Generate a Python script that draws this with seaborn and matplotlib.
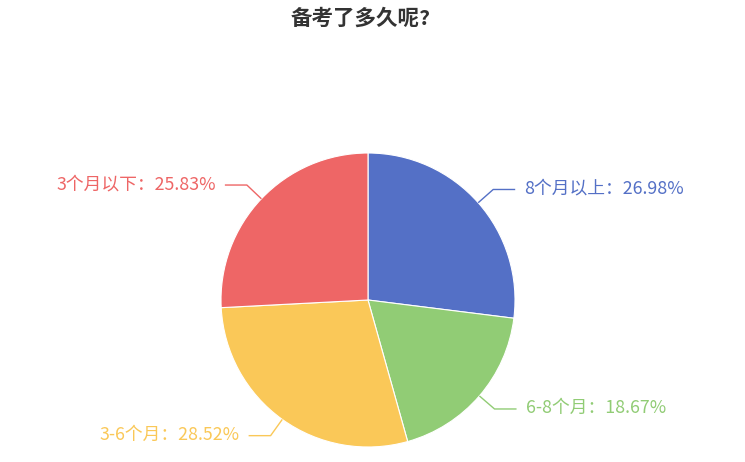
import numpy as np
import matplotlib
matplotlib.use('Agg')
import matplotlib.pyplot as plt
import seaborn as sns

categories = ['8个月以上', '6-8个月', '3-6个月', '3个月以下']
shares = [26.98, 18.67, 28.52, 25.83]
colors = ['#5470c6', '#91cc75', '#fac858', '#ee6666']
title = '备考了多久呢?'

sns.set_style('white')
plt.rcParams['font.family'] = ['Noto Sans CJK SC', 'DejaVu Sans']

W, H = 745, 462
fig = plt.figure(figsize=(W / 100, H / 100), dpi=100)
ax = fig.add_axes([0, 0, 1, 1])

cx, cy, r = 368, H - 300, 147
ax.pie(shares, colors=colors, startangle=90, counterclock=False,
       center=(cx, cy), radius=r, frame=True,
       wedgeprops=dict(edgecolor='white', linewidth=0.8))
ax.set_xlim(0, W)
ax.set_ylim(0, H)
ax.set_aspect('equal')
ax.axis('off')

# leader lines and labels
total = sum(shares)
start = 90.0
for name, val, col in zip(categories, shares, colors):
    span = val / total * 360
    mid = np.deg2rad(start - span / 2)
    start -= span
    x0, y0 = cx + r * np.cos(mid), cy + r * np.sin(mid)
    x1, y1 = cx + (r + 20) * np.cos(mid), cy + (r + 20) * np.sin(mid)
    side = 1 if np.cos(mid) >= 0 else -1
    x2 = x1 + side * 22
    ax.plot([x0, x1, x2], [y0, y1, y1], color=col, lw=1, solid_capstyle='butt')
    ax.text(x2 + side * 9, y1 + 1, f'{name}：{val:.2f}%', color=col, fontsize=12.8,
            ha='left' if side > 0 else 'right', va='center')

fig.text(361 / W, 1 - 18 / H, title, ha='center', va='center',
         fontsize=15.5, fontweight='bold', color='#333333')

fig.savefig('out.png', dpi=100)
